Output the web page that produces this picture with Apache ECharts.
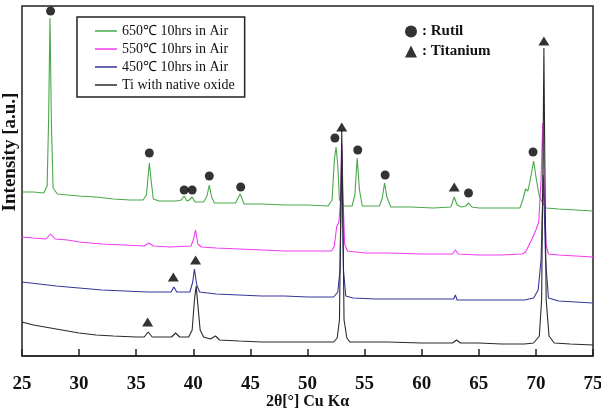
<!DOCTYPE html>
<html>
<head>
<meta charset="utf-8">
<script src="https://cdn.jsdelivr.net/npm/echarts@6/dist/echarts.min.js"></script>
<style>
  html, body { margin: 0; padding: 0; background: #fff; }
  #xrd-chart { width: 601px; height: 411px; }
</style>
</head>
<body>
<div id="xrd-chart"></div>
<script>
// XRD patterns, [2theta, intensity] (a.u., stacked offsets)
const scan650 = [
  [25, 164], [26, 164], [26.9, 163], [27.2, 170], [27.33, 236], [27.45, 338], [27.57, 236], [27.72, 168],
  [28.1, 162], [29, 161], [30, 160], [31.5, 159], [33, 157], [34.5, 156], [35.6, 156], [35.9, 161],
  [36.05, 181], [36.15, 193], [36.3, 176], [36.5, 157], [37, 155], [38.5, 155], [38.95, 156], [39.2, 160],
  [39.45, 155], [39.65, 156], [39.9, 159], [40.15, 154], [40.9, 154], [41.2, 160], [41.4, 171], [41.6, 159],
  [41.85, 153], [43.7, 153], [44.1, 162], [44.45, 152], [46, 152], [48, 151], [50, 151], [51.8, 150],
  [52.15, 156], [52.35, 196], [52.5, 209], [52.65, 191], [52.8, 156], [53.2, 150], [53.9, 150], [54.15, 161],
  [54.35, 198], [54.55, 166], [54.8, 150], [56.3, 150], [56.55, 158], [56.75, 173], [56.95, 159], [57.3, 149],
  [59, 149], [61, 148], [62.55, 149], [62.85, 159], [63.1, 151], [63.5, 149], [63.85, 150], [64.1, 153],
  [64.4, 149], [65, 148], [67, 148], [68.6, 148], [68.85, 156], [69.1, 167], [69.3, 165], [69.5, 176],
  [69.8, 195], [70.05, 176], [70.3, 160], [70.6, 153], [70.9, 148], [72, 147], [73.5, 146], [75, 145]
];
const scan550 = [
  [25, 119], [26, 118], [27.1, 117], [27.5, 122], [27.9, 117], [29, 116], [30, 114], [32, 112],
  [34, 111], [35.7, 110], [36.1, 113], [36.5, 110], [38, 109], [39.8, 110], [40.0, 116], [40.2, 126],
  [40.4, 112], [40.7, 109], [42, 108], [44, 107], [46, 106], [48, 105], [50, 105], [52.1, 105],
  [52.35, 110], [52.55, 129], [52.75, 134], [52.9, 156], [53.0, 213], [53.12, 156], [53.25, 112], [53.5, 105],
  [55, 103], [57, 103], [60, 102], [62.7, 102], [62.95, 106], [63.2, 102], [65, 101], [67, 101],
  [68.8, 102], [69.1, 104], [69.4, 111], [69.7, 118], [70.0, 126], [70.25, 134], [70.45, 176], [70.6, 233],
  [70.75, 156], [70.9, 111], [71.1, 102], [72, 101], [73.5, 100], [75, 99]
];
const scan450 = [
  [25, 74], [26.5, 72], [28, 70], [30, 68], [32, 66], [34, 65], [36, 64], [37.5, 64],
  [38.05, 64], [38.3, 69], [38.55, 64], [39.7, 64], [39.95, 74], [40.1, 87], [40.3, 71], [40.55, 64],
  [42, 62], [44, 61], [46, 60], [48, 60], [50, 59], [52.3, 59], [52.65, 64], [52.85, 86],
  [52.95, 160], [53.0, 206], [53.06, 160], [53.15, 86], [53.35, 60], [54, 58], [56, 57], [58, 57],
  [60, 57], [62.8, 57], [62.95, 61], [63.1, 56], [65, 56], [67, 56], [69, 56], [69.8, 58],
  [70.2, 66], [70.45, 96], [70.65, 181], [70.85, 96], [71.1, 58], [72, 55], [73.5, 54], [75, 53]
];
const scanNative = [
  [25, 34], [26, 31], [27, 29], [28, 27], [29, 25], [30, 23], [31.5, 21], [33, 20],
  [35, 19], [35.7, 19], [36.05, 24], [36.4, 19], [37.5, 19], [38.1, 19], [38.45, 23], [38.8, 19],
  [39.6, 19], [39.9, 26], [40.1, 56], [40.25, 70], [40.4, 51], [40.6, 26], [40.9, 19], [41.5, 17],
  [41.95, 20], [42.3, 16], [44, 15], [46, 14], [48, 14], [50, 14], [52.3, 14], [52.6, 18],
  [52.8, 36], [52.92, 156], [53.0, 226], [53.08, 156], [53.2, 36], [53.45, 18], [53.7, 14], [55, 14],
  [57, 14], [60, 13], [62.7, 13], [63.05, 16], [63.4, 13], [65, 13], [67, 12], [69, 12],
  [69.8, 13], [70.3, 20], [70.5, 56], [70.62, 196], [70.7, 308], [70.78, 196], [70.9, 56], [71.15, 20],
  [71.6, 13], [73, 12], [75, 11]
];

// phase markers placed above the peaks
const rutilMarks = [
  [27.5, 345], [36.15, 203], [39.2, 166], [39.9, 166], [41.4, 180], [44.15, 169],
  [52.4, 218], [54.4, 206], [56.8, 181], [64.1, 163], [69.75, 204]
];
const titaniumMarks = [
  [53.0, 229], [62.85, 169], [70.7, 315], [36.0, 34], [38.25, 79], [40.2, 96]
];

const seriesNames = ['650\u2103 10hrs in Air', '550\u2103 10hrs in Air', '450\u2103 10hrs in Air', 'Ti with native oxide'];
const seriesColors = ['#4aa84a', '#f03cf0', '#36369a', '#2a2a2a'];
const scans = [scan650, scan550, scan450, scanNative];

const serif = '"Liberation Serif", "Times New Roman", serif';

const chart = echarts.init(document.getElementById('xrd-chart'));

const lineSeries = scans.map((data, i) => ({
  name: seriesNames[i],
  type: 'line',
  data: data,
  symbol: 'none',
  lineStyle: { color: seriesColors[i], width: 1.1 },
  itemStyle: { color: seriesColors[i] },
  z: 2 + i
}));

const option = {
  animation: false,
  backgroundColor: '#fff',
  grid: {
    left: 22, right: 8, top: 6, bottom: 55,
    containLabel: false,
    outerBoundsMode: 'none',
    show: true, borderColor: '#222', borderWidth: 1.5
  },
  legend: [
    {
      data: seriesNames.map(n => ({ name: n, icon: 'rect' })),
      orient: 'vertical',
      left: 77, top: 17,
      padding: [7, 10, 5, 18],
      itemGap: 4,
      itemWidth: 22,
      itemHeight: 1.5,
      borderColor: '#222',
      borderWidth: 1.5,
      textStyle: { fontFamily: serif, fontSize: 14, color: '#111', lineHeight: 14 }
    },
    {
      data: ['Rutil', 'Titanium'],
      orient: 'vertical',
      left: 405, top: 24,
      padding: 0,
      itemGap: 5,
      itemWidth: 12,
      itemHeight: 12,
      formatter: ': {name}',
      textStyle: { fontFamily: serif, fontSize: 15, fontWeight: 'bold', color: '#111' }
    }
  ],
  xAxis: {
    type: 'value',
    min: 25, max: 75, interval: 5,
    name: '2\u03b8[\u00b0] Cu K\u03b1',
    nameLocation: 'middle',
    nameGap: 38,
    nameMoveOverlap: false,
    nameTextStyle: { fontFamily: serif, fontSize: 16, fontWeight: 'bold', color: '#111' },
    axisLine: { lineStyle: { color: '#222', width: 1.5 } },
    axisTick: { inside: true, length: 7, lineStyle: { color: '#222', width: 1.5 } },
    axisLabel: { fontFamily: serif, fontSize: 19, fontWeight: 'bold', color: '#111', margin: 19 },
    splitLine: { show: false }
  },
  yAxis: {
    type: 'value',
    min: 0, max: 350,
    name: 'Intensity [a.u.]',
    nameLocation: 'middle',
    nameGap: 2,
    nameRotate: 90,
    nameTextStyle: { fontFamily: serif, fontSize: 19, fontWeight: 'bold', color: '#111', padding: [0, 0, 0, 58] },
    axisLine: { show: false },
    axisTick: { show: false },
    axisLabel: { show: false },
    splitLine: { show: false }
  },
  series: lineSeries.concat([
    {
      name: 'Rutil',
      type: 'scatter',
      data: rutilMarks,
      symbol: 'circle',
      symbolSize: 9,
      itemStyle: { color: '#000' },
      z: 10
    },
    {
      name: 'Titanium',
      type: 'scatter',
      data: titaniumMarks,
      symbol: 'triangle',
      symbolSize: [11, 9],
      itemStyle: { color: '#000' },
      z: 10
    }
  ])
};

chart.setOption(option);
</script>
</body>
</html>
